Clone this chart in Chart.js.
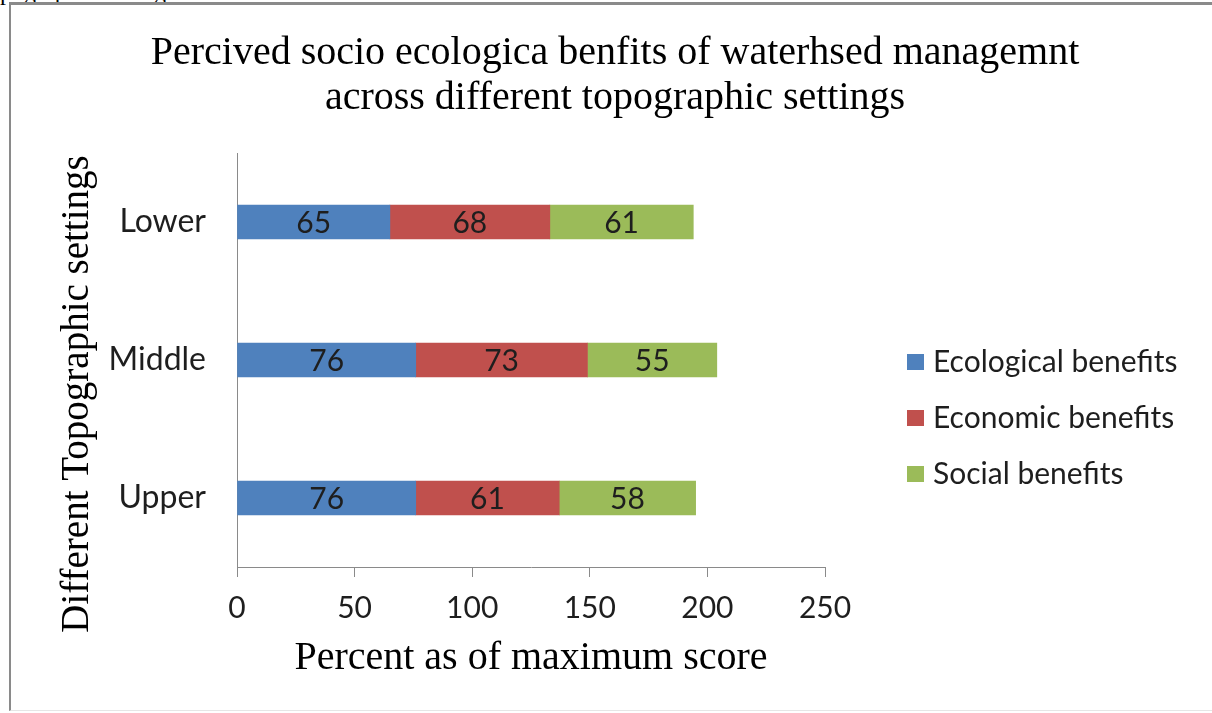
<!DOCTYPE html>
<html>
<head>
<meta charset="utf-8">
<script src="https://cdn.jsdelivr.net/npm/chart.js@4.4.0/dist/chart.umd.min.js"></script>
<style>
  body { margin: 0; background: #fff; width: 1212px; height: 713px; overflow: hidden; position: relative; }
  #clipped { position: absolute; left: 0; top: -21px; font: 24px "Liberation Serif"; color: #000; white-space: nowrap; }
  #frame { position: absolute; left: 9px; top: 2px; width: 1230px; height: 705px;
           border-left: 2px solid #8a8a8a; border-top: 3px solid #8a8a8a; border-bottom: 1px solid #e6e6e6; }
  #wrap { position: absolute; left: 12px; top: 5px; width: 1200px; height: 703px; }
</style>
</head>
<body>
<div id="clipped">pographic settings</div>
<div id="frame"></div>
<div id="wrap"><canvas id="benefitChart"></canvas></div>
<script>
// -------------------------------------
// Data
// -------------------------------------
const categories = ["Lower", "Middle", "Upper"];
const seriesNames = ["Ecological benefits", "Economic benefits", "Social benefits"];
const ecological = [65, 76, 76];
const economic = [68, 73, 61];
const social = [61, 55, 58];
const xTickMin = 0;
const xTickMax = 250;
const xTickStep = 50;

const titleLines = [
  "Percived socio ecologica benfits of waterhsed managemnt",
  "across different topographic settings",
];

const colors = ["#4f81bd", "#c0504d", "#9bbb59"];
const serif = "'Liberation Serif', 'Times New Roman', serif";
const sans = "Lato, 'Open Sans', sans-serif";

// values written in the middle of each bar segment
const barValues = {
  id: "barValues",
  afterDatasetsDraw(chart) {
    const ctx = chart.ctx;
    ctx.save();
    ctx.font = "30px " + sans;
    ctx.fillStyle = "#1e1e1e";
    ctx.textAlign = "center";
    ctx.textBaseline = "middle";
    chart.data.datasets.forEach((ds, i) => {
      chart.getDatasetMeta(i).data.forEach((bar, j) => {
        const p = bar.getCenterPoint();
        ctx.fillText(ds.data[j], p.x, p.y + 1);
      });
    });
    ctx.restore();
  }
};

// chart title and y axis title, centred on the whole chart (as Excel does)
const chartTexts = {
  id: "chartTexts",
  afterDraw(chart) {
    const ctx = chart.ctx;
    ctx.save();
    ctx.fillStyle = "#000";
    ctx.textAlign = "center";
    ctx.textBaseline = "middle";
    ctx.font = "40px " + serif;
    titleLines.forEach((line, i) => ctx.fillText(line, 603, 48 + i * 45));

    ctx.translate(66, 389);
    ctx.rotate(-Math.PI / 2);
    ctx.font = "39px " + serif;
    ctx.fillText("Different Topographic settings", 0, 0);
    ctx.restore();
  }
};

// legend at the right, one entry per row
const sideLegend = {
  id: "sideLegend",
  afterDraw(chart) {
    const ctx = chart.ctx;
    ctx.save();
    ctx.font = "30px " + sans;
    ctx.textBaseline = "middle";
    ctx.textAlign = "left";
    chart.data.datasets.forEach((ds, i) => {
      const y = 357 + i * 56;
      ctx.fillStyle = ds.backgroundColor;
      ctx.fillRect(895, y - 8, 17, 16);
      ctx.fillStyle = "#1e1e1e";
      ctx.fillText(ds.label, 921, y);
    });
    ctx.restore();
  }
};

const ctx = document.getElementById("benefitChart");

new Chart(ctx, {
  type: "bar",
  data: {
    labels: categories,
    datasets: [
      { label: seriesNames[0], data: ecological, backgroundColor: colors[0] },
      { label: seriesNames[1], data: economic, backgroundColor: colors[1] },
      { label: seriesNames[2], data: social, backgroundColor: colors[2] },
    ],
  },
  options: {
    indexAxis: "y",
    responsive: true,
    maintainAspectRatio: false,
    animation: false,
    layout: { padding: { left: 0, right: 387, top: 148, bottom: 0 } },
    datasets: {
      bar: { barThickness: 34, borderWidth: 0 }
    },
    plugins: {
      legend: { display: false },
      tooltip: { enabled: false },
      title: { display: false },
    },
    scales: {
      x: {
        stacked: true,
        min: xTickMin,
        max: xTickMax,
        ticks: {
          stepSize: xTickStep,
          color: "#1e1e1e",
          font: { family: sans, size: 30 },
          padding: 13,
          maxRotation: 0,
        },
        grid: {
          display: true,
          drawOnChartArea: false,
          drawTicks: true,
          tickLength: 10,
          color: "#8a8a8a",
        },
        border: { display: true, color: "#8a8a8a", width: 1 },
        title: {
          display: true,
          text: "Percent as of maximum score",
          color: "#000",
          font: { family: serif, size: 40, weight: "normal", lineHeight: 1.2 },
          padding: { top: 0, bottom: 26 },
        },
        afterFit(scale) { scale.height = 141; },
      },
      y: {
        stacked: true,
        ticks: {
          color: "#1e1e1e",
          font: { family: sans, size: 32 },
          padding: 31,
        },
        grid: { display: true, drawOnChartArea: false, drawTicks: false },
        border: { display: true, color: "#8a8a8a", width: 1 },
        afterFit(scale) { scale.width = 225; },
      },
    },
  },
  plugins: [barValues, chartTexts, sideLegend],
});
</script>
</body>
</html>
